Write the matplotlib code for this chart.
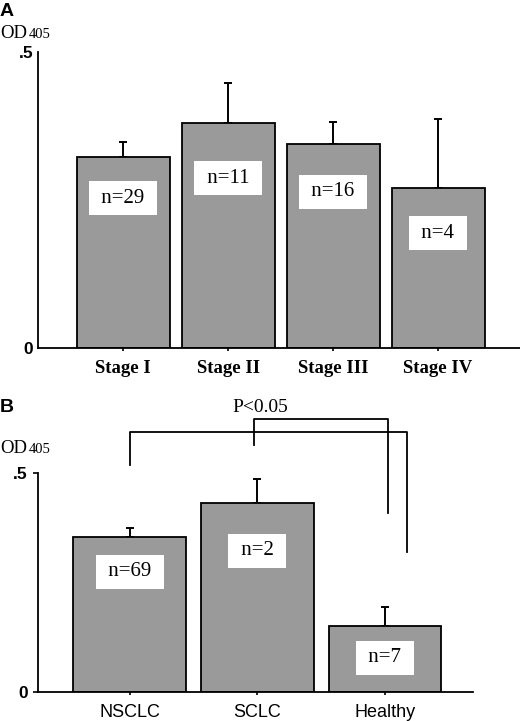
import numpy as np
import matplotlib
matplotlib.use("Agg")
import matplotlib.pyplot as plt

# panel A - tumour stage
stages = ["Stage I", "Stage II", "Stage III", "Stage IV"]
stage_mean = [0.322, 0.380, 0.345, 0.270]
stage_err = [0.026, 0.068, 0.037, 0.116]
stage_n = [29, 11, 16, 4]
stage_label_y = [0.253, 0.287, 0.264, 0.194]

# panel B - tumour type
groups = ["NSCLC", "SCLC", "Healthy"]
group_mean = [0.354, 0.431, 0.151]
group_err = [0.020, 0.055, 0.043]
group_n = [69, 2, 7]
group_label_y = [0.274, 0.322, 0.078]

W, H = 520, 721
serif = "Liberation Serif"
sans = "Liberation Sans"
bar_color = "#9a9a9a"


def px(x, y):
    return x / W, 1 - y / H


def style_axis(ax, ytick_len):
    for s in ["top", "right"]:
        ax.spines[s].set_visible(False)
    for s in ["left", "bottom"]:
        ax.spines[s].set_linewidth(1.3)
    ax.set_ylim(0, 0.5)
    ax.set_yticks([0, 0.5])
    ax.set_yticklabels(["0", ".5"], fontfamily=sans, fontweight="bold",
                       fontsize=12.5)
    ax.tick_params(axis="y", length=ytick_len, width=1.2, pad=3.6)
    ax.tick_params(axis="x", length=2.5, width=1.2, pad=6)


def draw_bars(ax, means, errs, ns, label_y):
    x = np.arange(len(means))
    ax.bar(x, means, width=0.885, color=bar_color, edgecolor="black",
           linewidth=1.3, zorder=2)
    ax.errorbar(x, means, yerr=[np.zeros(len(errs)), errs], fmt="none",
                ecolor="black", elinewidth=1.4, capsize=2.6, capthick=1.4,
                zorder=1)
    for xi, yi, n in zip(x, label_y, ns):
        ax.text(xi, yi, " n=%d " % n, ha="center", va="center",
                fontfamily=serif, fontsize=15, zorder=3,
                bbox=dict(boxstyle="square,pad=0.36", fc="white", ec="none"))
    return x


fig = plt.figure(figsize=(W / 100, H / 100), dpi=100)

# ---- A
l, b = px(38, 348)
_, t = px(0, 52)
axA = fig.add_axes([l, b, 1 - l, t - b])
xa = draw_bars(axA, stage_mean, stage_err, stage_n, stage_label_y)
axA.set_xlim(-0.81, 3.78)
axA.set_xticks(xa)
axA.set_xticklabels(stages, fontfamily=serif, fontweight="bold", fontsize=13.5)
style_axis(axA, 0)

# ---- B
l, b = px(38, 692)
r, t = px(473, 473)
axB = fig.add_axes([l, b, r - l, t - b])
xb = draw_bars(axB, group_mean, group_err, group_n, group_label_y)
axB.set_xlim(-0.72, 2.69)
axB.set_xticks(xb)
axB.set_xticklabels(groups, fontfamily=sans, fontsize=13)
style_axis(axB, 3.6)

# significance brackets
axB.plot([0, 0, 2.17, 2.17], [0.518, 0.594, 0.594, 0.320],
         color="black", lw=1.3, clip_on=False)
axB.plot([0.97, 0.97, 2.02, 2.02], [0.564, 0.623, 0.623, 0.409],
         color="black", lw=1.3, clip_on=False)
axB.text(1.02, 0.640, "P<0.05", ha="center", va="baseline",
         fontfamily=serif, fontsize=14)

# panel letters and y-axis titles
fig.text(*px(0, 16), "A", fontfamily=sans, fontweight="bold", fontsize=14,
         va="baseline")
fig.text(*px(0, 412), "B", fontfamily=sans, fontweight="bold", fontsize=14,
         va="baseline")
for base in [38, 453]:
    fig.text(*px(0, base), "OD", fontfamily=serif, fontsize=13.5,
             va="baseline")
    fig.text(*px(29, base), "405", fontfamily=serif, fontsize=10.5,
             va="baseline")

fig.savefig("out.png", dpi=100)
